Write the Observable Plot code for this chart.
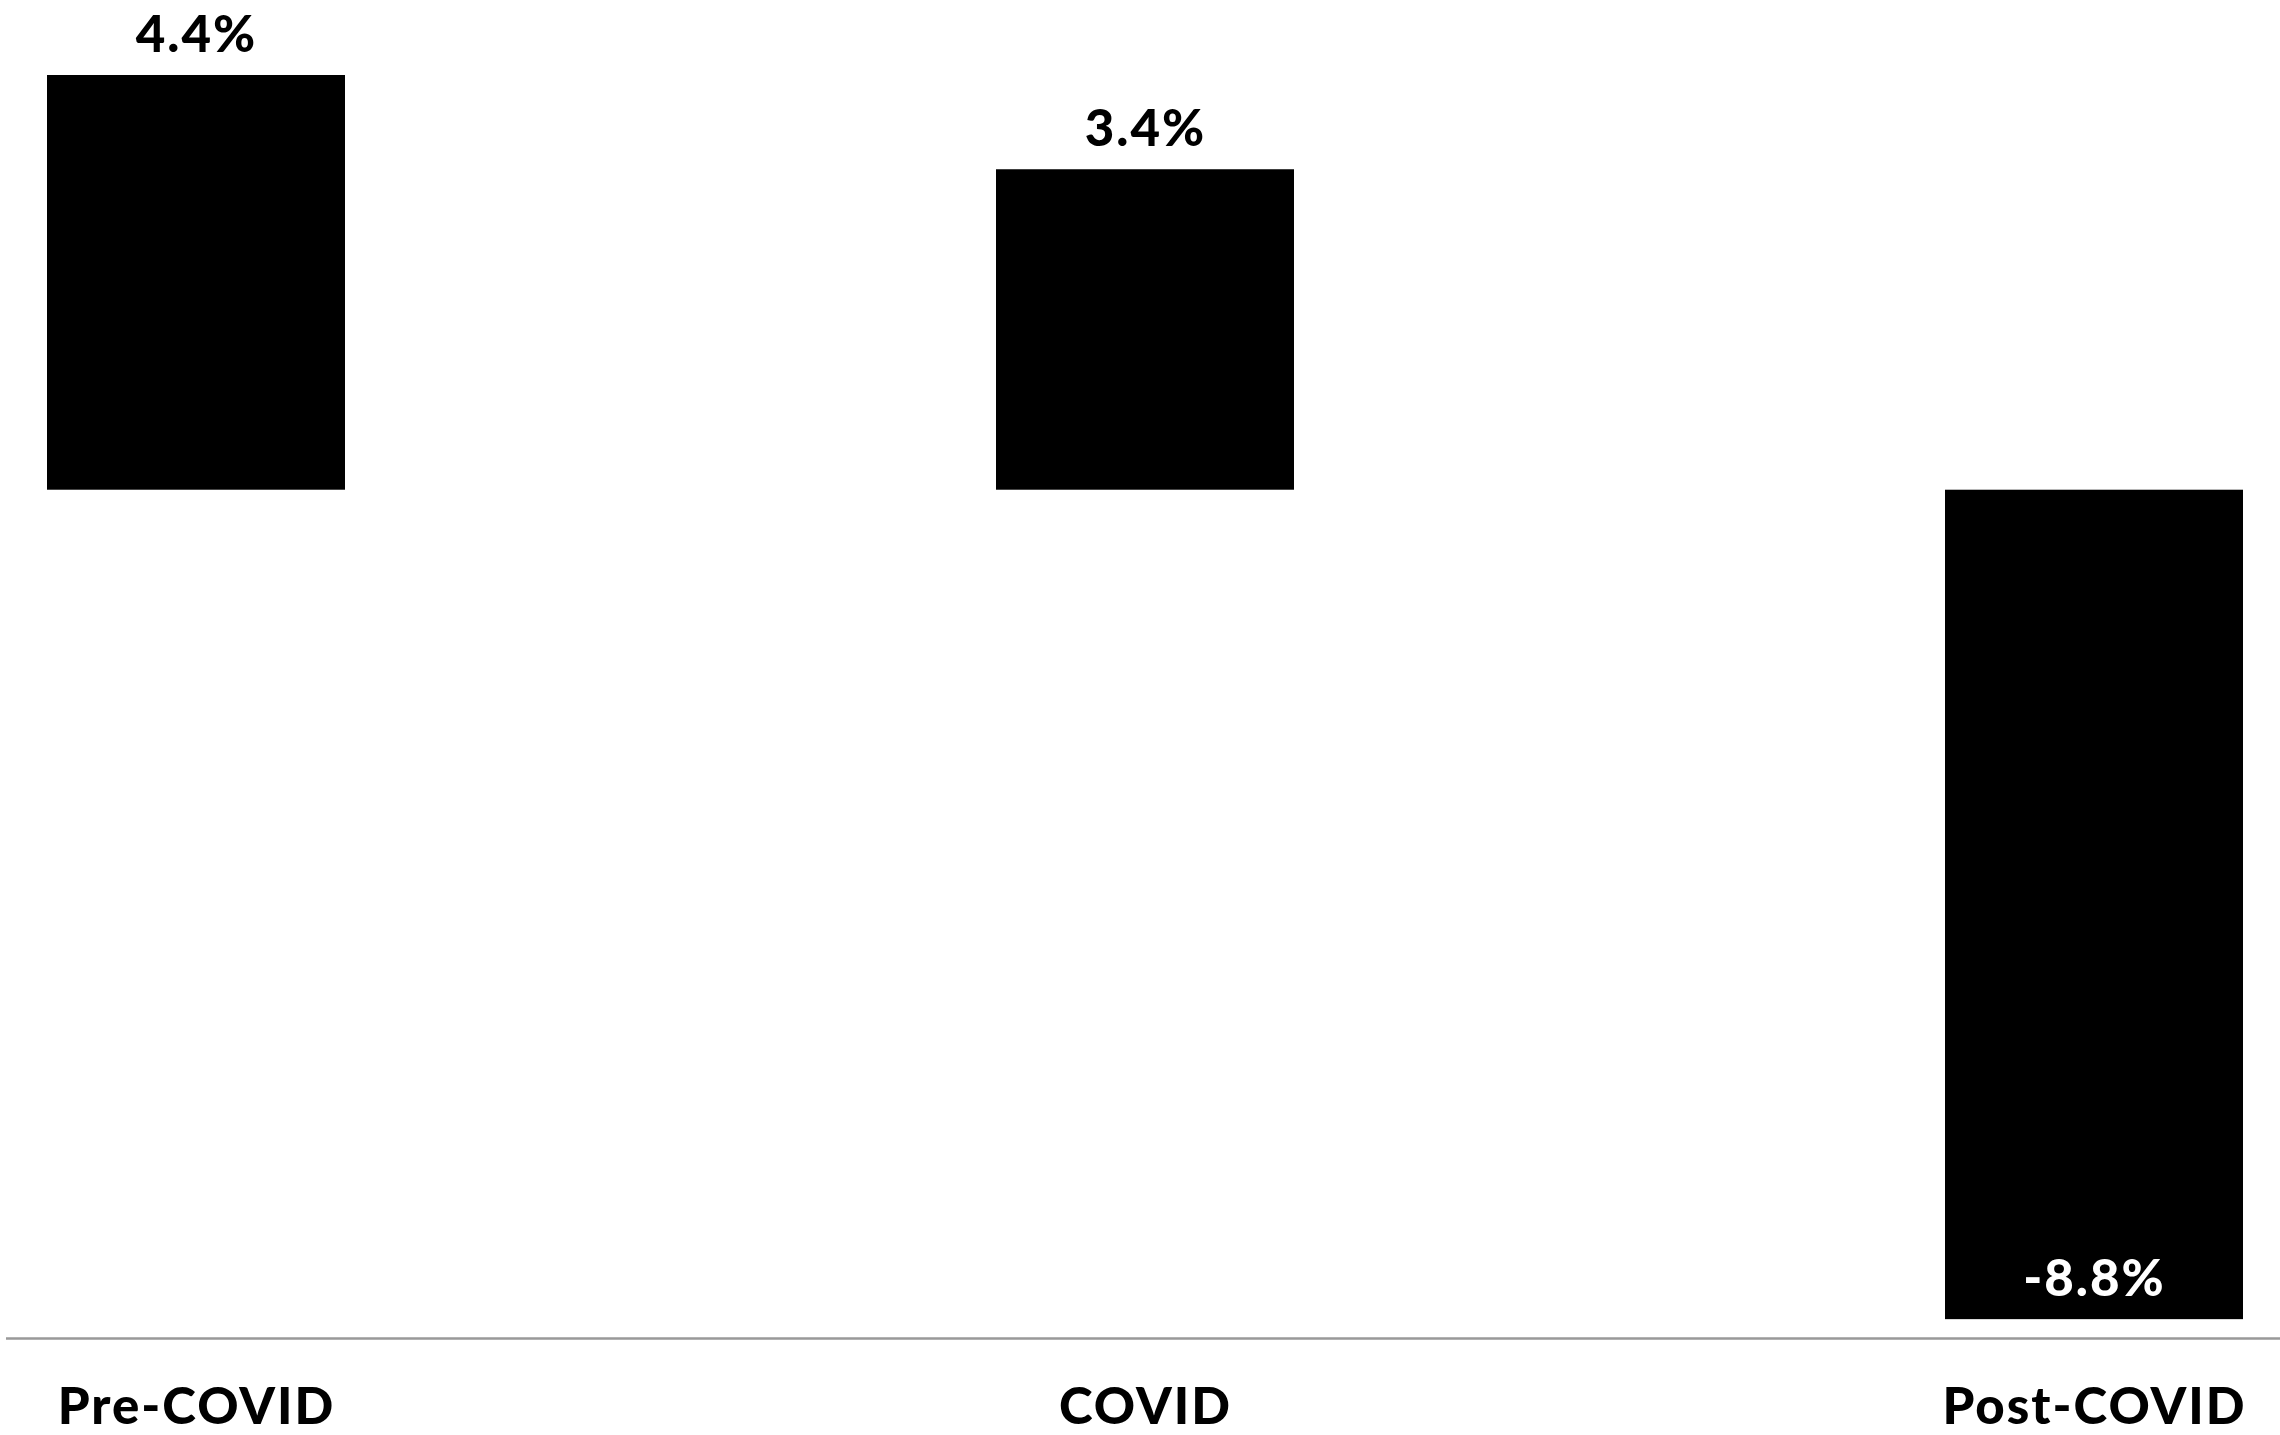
<!DOCTYPE html>
<html>
<head>
<meta charset="utf-8">
<script src="https://cdn.jsdelivr.net/npm/d3@7"></script>
<script src="https://cdn.jsdelivr.net/npm/@observablehq/plot@0.6"></script>
<style>
  html, body { margin: 0; padding: 0; background: #ffffff; }
  #chart svg { display: block; font-family: Lato, "Noto Sans", sans-serif; }
  #chart svg text { letter-spacing: 2px; }
</style>
</head>
<body>
<div id="chart"></div>
<script>
const categories = ["Pre-COVID", "COVID", "Post-COVID"];
const values = [4.4, 3.4, -8.8];

const data = categories.map((c, i) => ({category: c, value: values[i]}));

const chart = Plot.plot({
  width: 2280,
  height: 1435,
  marginTop: 75,
  marginBottom: 97,
  marginLeft: 6,
  marginRight: 0,
  style: {background: "#ffffff", fontFamily: "Lato, 'Noto Sans', sans-serif"},
  x: {domain: categories, range: [46, 2243], paddingInner: 0.686, paddingOuter: 0, label: null},
  y: {domain: [-9, 4.4], axis: null},
  marks: [
    Plot.barY(data, {x: "category", y: "value", fill: "#000000"}),
    Plot.text(data, {
      x: "category",
      y: "value",
      text: d => `${d.value}%`,
      lineAnchor: "bottom",
      dy: -24,
      fill: d => d.value < 0 ? "#ffffff" : "#000000",
      fontSize: 51,
      fontWeight: 900
    }),
    Plot.ruleY([-9], {stroke: "#999999", strokeWidth: 2.5}),
    Plot.axisX({tickSize: 0, tickPadding: 49, fontSize: 51, fontWeight: 900, label: null, color: "#000000"})
  ]
});
document.getElementById("chart").appendChild(chart);
</script>
</body>
</html>
